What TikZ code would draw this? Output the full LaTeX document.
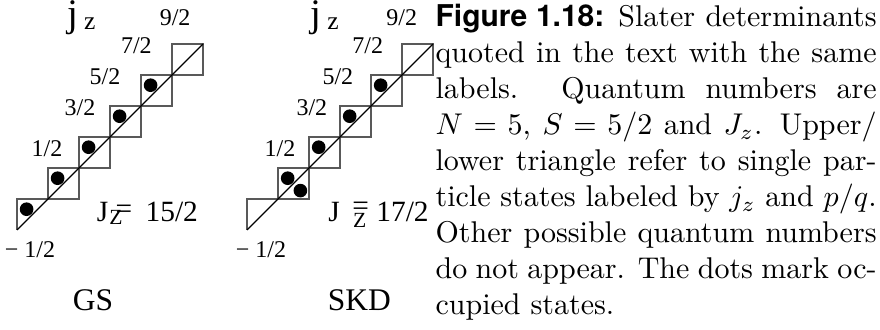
\documentclass[tikz,border=0pt]{standalone}
\usepackage{fontspec}
\newfontfamily\figfont{TeX Gyre Heros}
\newfontfamily\timesfont{Liberation Serif}
\begin{document}
\begin{tikzpicture}[x=10.333pt, y=10.333pt,
		box/.style={draw=black!65, line width=0.5pt},
		diag/.style={draw=black, line width=0.4pt},
		occ/.style={fill=black},
		frac/.style={font=\timesfont\fontsize{8}{9}\selectfont, inner sep=0pt},
		jlab/.style={font=\timesfont\fontsize{13}{15}\selectfont, inner sep=0pt, anchor=base west},
		total/.style={font=\timesfont\fontsize{9.8}{11}\selectfont, inner sep=0pt, anchor=base west},
		panelname/.style={font=\timesfont\fontsize{10.5}{12}\selectfont, inner sep=0pt}]
	\useasboundingbox (0,0) rectangle (28.387,10.645);
	
	% Trạng thái GS
	\begin{scope}[shift={(0.548,3.226)}]
		% ô thấp nhất chỉ có tam giác trên
		\draw[box] (0,0) -- (0,1) -- (1,1);
		\foreach \k in {1,...,5}
			\draw[box] (\k,\k) rectangle ++(1,1);
		\coordinate (gs-start) at (0,0);
		\coordinate (gs-end) at (6,6);
		\draw[diag] (gs-start) -- (gs-end);
		% các trạng thái bị chiếm
		\foreach \k in {0,...,4}
			\fill[occ] (\k+0.31,\k+0.67) circle (0.22);
		% nhãn j_z
		\node[frac] (gs-jm) at (0.42,-0.62) {− 1/2};
		\foreach \k/\x/\y in {1/0.97/2.61, 3/2.03/3.94, 5/2.84/4.94, 7/3.85/5.95, 9/5.10/6.84}
			\node[frac] (gs-j\k) at (\x,\y) {\k/2};
		\node[jlab] (gs-jz) at (1.60,6.56) {j\hspace{2pt}\raisebox{-1pt}{\fontsize{8.5}{9}\selectfont z}};
		\node[total] (gs-total) at (2.56,0.26) {J\kern0.3pt\raisebox{-1pt}{\fontsize{7.2}{8}\selectfont Z}\kern-2.3pt\raisebox{1.2pt}{=}\hspace{4.5pt}15/2};
		\node[panelname] (gs-name) at (2.45,-2.26) {GS};
	\end{scope}
	
	% Trạng thái SKD
	\begin{scope}[shift={(7.97,3.226)}]
		\draw[box] (0,0) -- (0,1) -- (1,1);
		\foreach \k in {1,...,5}
			\draw[box] (\k,\k) rectangle ++(1,1);
		\coordinate (skd-start) at (0,0);
		\coordinate (skd-end) at (6,6);
		\draw[diag] (skd-start) -- (skd-end);
		\foreach \k in {1,...,4}
			\fill[occ] (\k+0.31,\k+0.67) circle (0.22);
		\fill[occ] (1.72,1.27) circle (0.22);
		\node[frac] (skd-jm) at (0.45,-0.62) {− 1/2};
		\foreach \k/\x/\y in {1/1.06/2.61, 3/2.09/3.94, 5/2.93/4.94, 7/3.89/5.95, 9/4.99/6.84}
			\node[frac] (skd-j\k) at (\x,\y) {\k/2};
		\node[jlab] (skd-jz) at (2.03,6.56) {j\hspace{2pt}\raisebox{-1pt}{\fontsize{8.5}{9}\selectfont z}};
		\node[total] (skd-total) at (2.60,0.26) {J\hspace{4.5pt}\raisebox{-1.7pt}{\fontsize{7.2}{8}\selectfont Z}\kern-4.7pt\raisebox{2.2pt}{=}\hspace{2.5pt}17/2};
		\node[panelname] (skd-name) at (3.62,-2.26) {SKD};
	\end{scope}
	
	% Chú thích
	\node[anchor=north west, inner sep=0pt, text width=147pt, align=justify, font=\fontsize{10}{12}\selectfont] (caption) at (14.032,10.516) {{\figfont\bfseries Figure 1.18:} Slater determinants\linebreak
		quoted in the text with the same\linebreak
		labels. Quantum numbers are\linebreak
		$N = 5$, $S = 5/2$ and $J_z$. Upper/\linebreak
		lower triangle refer to single par-\linebreak
		ticle states labeled by $j_z$ and $p/q$.\linebreak
		Other possible quantum numbers\linebreak
		do not appear. The dots mark oc-\linebreak
		cupied states.};
\end{tikzpicture}
\end{document}
